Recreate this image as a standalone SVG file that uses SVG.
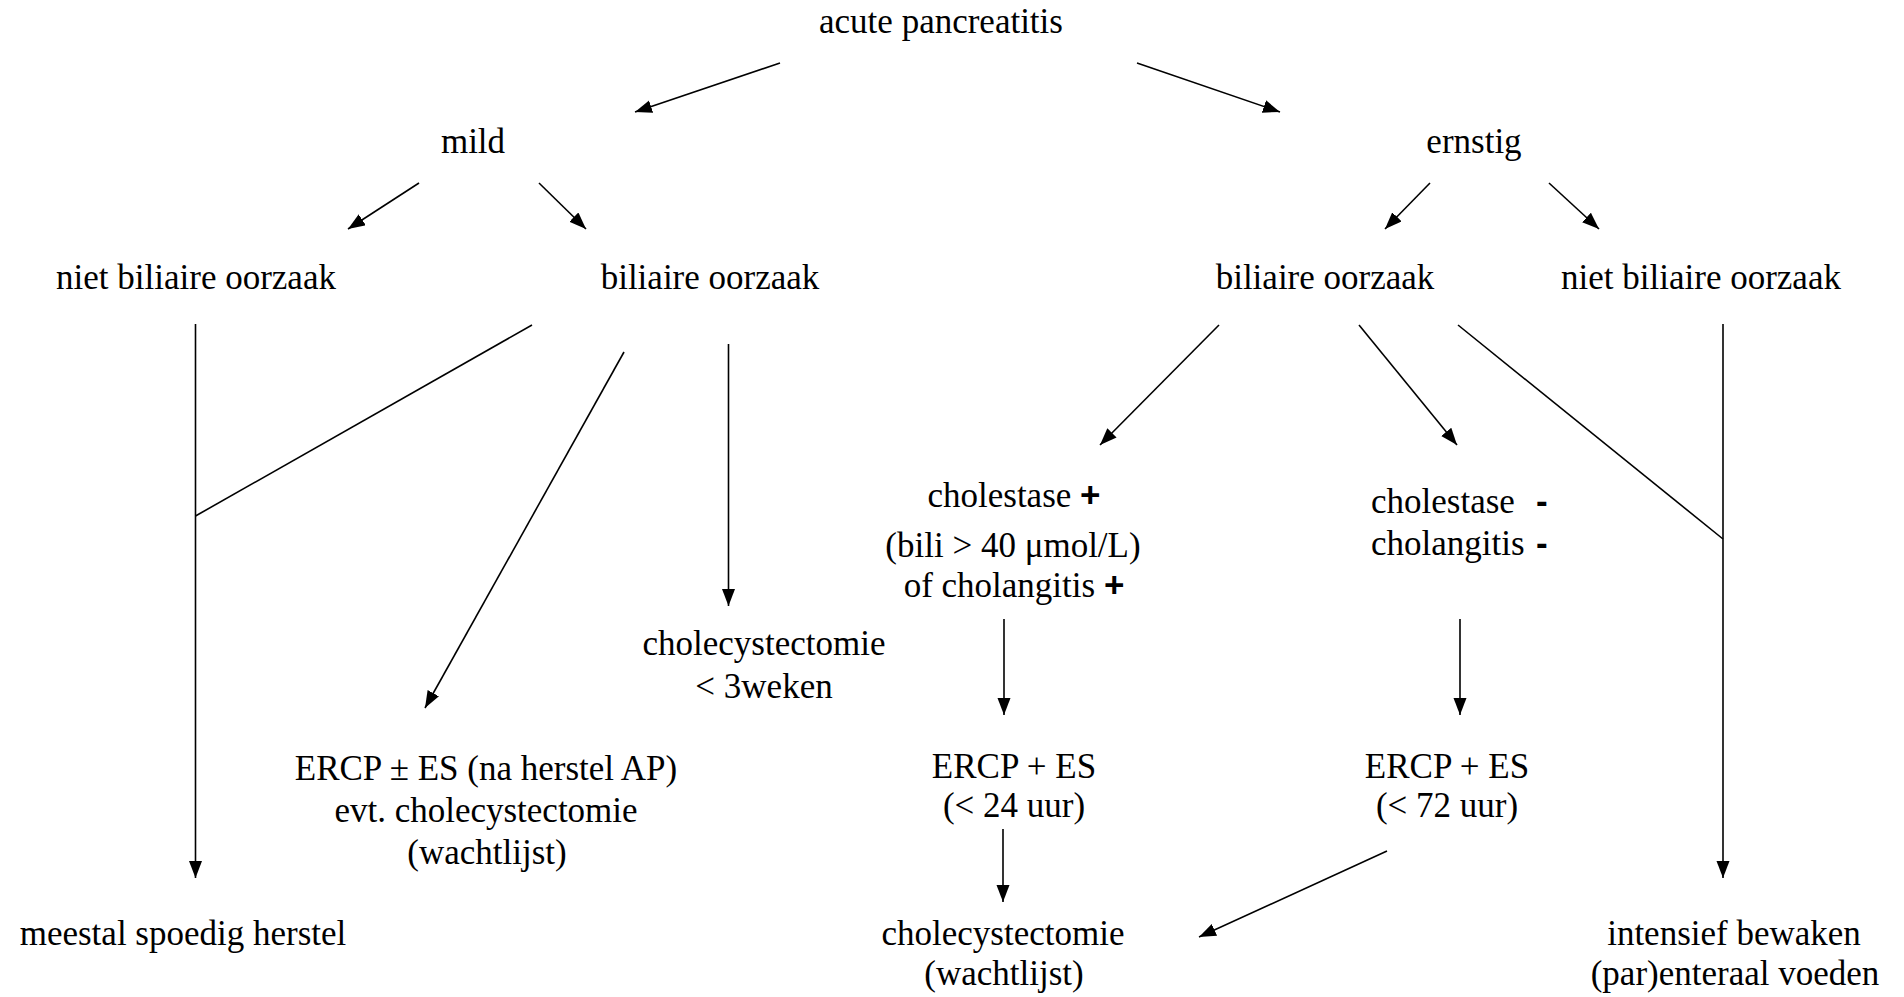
<svg xmlns="http://www.w3.org/2000/svg" width="1904" height="997" viewBox="0 0 1904 997">
<defs>
<marker id="ah" markerUnits="userSpaceOnUse" markerWidth="18" markerHeight="14" refX="17" refY="6.5" orient="auto">
<path d="M0,0 L17,6.5 L0,13 z" fill="#000"/>
</marker>
<style>
text{font-family:"Liberation Serif","Times New Roman",serif;font-size:35px;fill:#000;text-anchor:middle}
.b{font-family:"Liberation Sans",Arial,sans-serif;font-weight:bold}
.l{text-anchor:start}
line{stroke:#000;stroke-width:1.6}
.a{marker-end:url(#ah)}
</style>
</defs>
<rect width="1904" height="997" fill="#fff"/>
<g id="connectors">
<line class="a" x1="780" y1="63" x2="635" y2="112"/>
<line class="a" x1="1137" y1="63" x2="1280" y2="112"/>
<line class="a" x1="419" y1="183" x2="348" y2="229"/>
<line class="a" x1="539" y1="183" x2="586" y2="229"/>
<line class="a" x1="1430" y1="183" x2="1385" y2="229"/>
<line class="a" x1="1549" y1="183" x2="1599" y2="229"/>
<line class="a" x1="195.5" y1="324" x2="195.5" y2="878"/>
<line x1="532" y1="325" x2="195.5" y2="516"/>
<line class="a" x1="624" y1="352" x2="425" y2="708"/>
<line class="a" x1="728.5" y1="344" x2="728.5" y2="606"/>
<line class="a" x1="1219" y1="325" x2="1100" y2="445"/>
<line class="a" x1="1359" y1="325" x2="1457" y2="445"/>
<line x1="1458" y1="325" x2="1723" y2="539"/>
<line class="a" x1="1723" y1="324" x2="1723" y2="878"/>
<line class="a" x1="1004" y1="619" x2="1004" y2="715"/>
<line class="a" x1="1460" y1="619" x2="1460" y2="715"/>
<line class="a" x1="1003" y1="829" x2="1003" y2="902"/>
<line class="a" x1="1387" y1="851" x2="1199" y2="937"/>
</g>
<g id="acute"><text x="941" y="33">acute pancreatitis</text></g>
<g id="mild"><text x="473" y="153">mild</text></g>
<g id="ernstig"><text x="1474" y="153">ernstig</text></g>
<g id="mild-niet-biliair"><text x="196" y="289">niet biliaire oorzaak</text></g>
<g id="mild-biliair"><text x="710" y="289">biliaire oorzaak</text></g>
<g id="ernstig-biliair"><text x="1325" y="289">biliaire oorzaak</text></g>
<g id="ernstig-niet-biliair"><text x="1701" y="289">niet biliaire oorzaak</text></g>
<g id="cholestase-plus">
<text x="1014" y="507">cholestase <tspan class="b">+</tspan></text>
<text x="1013" y="557">(bili &gt; 40 μmol/L)</text>
<text x="1014" y="597">of cholangitis <tspan class="b">+</tspan></text>
</g>
<g id="cholestase-min">
<text class="l" x="1371" y="513">cholestase<tspan class="b" x="1536">-</tspan></text>
<text class="l" x="1371" y="555">cholangitis<tspan class="b" x="1536">-</tspan></text>
</g>
<g id="cholecystectomie-3w">
<text x="764" y="655">cholecystectomie</text>
<text x="764" y="698">&lt; 3weken</text>
</g>
<g id="ercp-herstel">
<text x="486" y="780">ERCP ± ES (na herstel AP)</text>
<text x="486" y="822">evt. cholecystectomie</text>
<text x="487" y="864">(wachtlijst)</text>
</g>
<g id="ercp-24">
<text x="1014" y="778">ERCP + ES</text>
<text x="1014" y="817">(&lt; 24 uur)</text>
</g>
<g id="ercp-72">
<text x="1447" y="778">ERCP + ES</text>
<text x="1447" y="817">(&lt; 72 uur)</text>
</g>
<g id="herstel"><text x="183" y="945">meestal spoedig herstel</text></g>
<g id="cholecystectomie-wacht">
<text x="1003" y="945">cholecystectomie</text>
<text x="1004" y="985">(wachtlijst)</text>
</g>
<g id="intensief">
<text x="1734" y="945">intensief bewaken</text>
<text x="1735" y="985">(par)enteraal voeden</text>
</g>
</svg>
